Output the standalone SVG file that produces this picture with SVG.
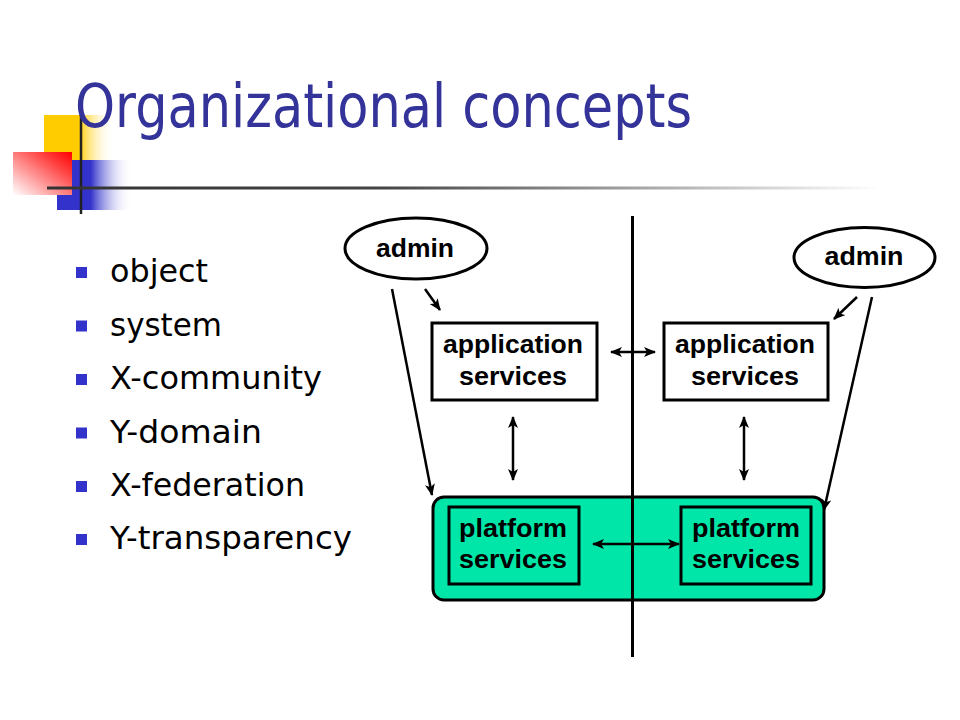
<svg xmlns="http://www.w3.org/2000/svg" width="960" height="720" viewBox="0 0 960 720">
<defs>
<linearGradient id="gYellow" x1="0" y1="0" x2="1" y2="0">
<stop offset="0" stop-color="#FFCC00"/>
<stop offset="0.5" stop-color="#FFCC00"/>
<stop offset="1" stop-color="#FFFFFF" stop-opacity="0"/>
</linearGradient>
<linearGradient id="gBlue" x1="0" y1="0" x2="1" y2="0">
<stop offset="0" stop-color="#3333CC"/>
<stop offset="0.45" stop-color="#3333CC"/>
<stop offset="1" stop-color="#FFFFFF" stop-opacity="0"/>
</linearGradient>
<linearGradient id="gRed" x1="1" y1="0" x2="0" y2="1">
<stop offset="0" stop-color="#FF0000"/>
<stop offset="0.25" stop-color="#FF3A3A"/>
<stop offset="1" stop-color="#FFFFFF"/>
</linearGradient>
<linearGradient id="gLine" x1="0" y1="0" x2="1" y2="0">
<stop offset="0" stop-color="#333333"/>
<stop offset="0.4" stop-color="#444444"/>
<stop offset="1" stop-color="#FFFFFF"/>
</linearGradient>
<marker id="ah" viewBox="0 0 12 10" refX="11" refY="5" markerWidth="12" markerHeight="10" markerUnits="userSpaceOnUse" orient="auto-start-reverse">
<path d="M0,0 L12,5 L0,10 L3,5 z" fill="#000"/>
</marker>
<style>
.title{font-family:"DejaVu Sans","Liberation Sans",sans-serif;font-size:60px;fill:#333399}
.bul{font-family:"DejaVu Sans","Liberation Sans",sans-serif;font-size:32px;fill:#000}
.sq{fill:#3333CC}
.lbl{font-family:"Liberation Sans",Arial,sans-serif;font-size:25px;font-weight:bold;fill:#000;text-anchor:middle}
.box{fill:#FFFFFF;stroke:#000;stroke-width:3}
.pbox{fill:#00E6A8;stroke:#000;stroke-width:3}
.obox{fill:none;stroke:#000;stroke-width:3}
.ell{fill:#FFFFFF;stroke:#000;stroke-width:3}
.con{fill:none;stroke:#000;stroke-width:2.5}
</style>
</defs>
<rect width="960" height="720" fill="#FFFFFF"/>

<g id="decoration">
<rect x="44" y="115" width="70" height="45" fill="url(#gYellow)"/>
<rect x="57" y="160" width="75" height="50" fill="url(#gBlue)"/>
<rect x="13" y="152" width="59" height="43" fill="url(#gRed)"/>
<line x1="81" y1="115" x2="81" y2="214" stroke="#222" stroke-width="2.5"/>
<rect x="47" y="186.5" width="833" height="3" fill="url(#gLine)"/>
</g>

<text class="title" x="75" y="127" textLength="617" lengthAdjust="spacingAndGlyphs">Organizational concepts</text>

<g id="bullets">
<rect class="sq" x="76" y="267" width="11" height="11"/>
<text class="bul" x="110" y="282" textLength="98" lengthAdjust="spacingAndGlyphs">object</text>
<rect class="sq" x="76" y="320.5" width="11" height="11"/>
<text class="bul" x="110" y="335.5" textLength="112" lengthAdjust="spacingAndGlyphs">system</text>
<rect class="sq" x="76" y="374" width="11" height="11"/>
<text class="bul" x="110" y="389" textLength="212" lengthAdjust="spacingAndGlyphs">X-community</text>
<rect class="sq" x="76" y="427.5" width="11" height="11"/>
<text class="bul" x="110" y="442.5" textLength="152" lengthAdjust="spacingAndGlyphs">Y-domain</text>
<rect class="sq" x="76" y="481" width="11" height="11"/>
<text class="bul" x="110" y="496" textLength="195" lengthAdjust="spacingAndGlyphs">X-federation</text>
<rect class="sq" x="76" y="534" width="11" height="11"/>
<text class="bul" x="110" y="549" textLength="242" lengthAdjust="spacingAndGlyphs">Y-transparency</text>
</g>

<g id="platform-domain">
<rect class="pbox" x="433" y="497" width="391" height="103" rx="11"/>
</g>

<g id="divider">
<line x1="632.5" y1="216" x2="632.5" y2="657" stroke="#000" stroke-width="3"/>
</g>

<g id="admin-left">
<ellipse class="ell" cx="416" cy="248.5" rx="71" ry="30.5"/>
<text class="lbl" x="415" y="257" textLength="78" lengthAdjust="spacingAndGlyphs">admin</text>
</g>
<g id="admin-right">
<ellipse class="ell" cx="864.5" cy="257.5" rx="70.5" ry="30"/>
<text class="lbl" x="864" y="265" textLength="79" lengthAdjust="spacingAndGlyphs">admin</text>
</g>

<g id="app-left">
<rect class="box" x="432" y="323" width="165" height="77"/>
<text class="lbl" x="513" y="353" textLength="140" lengthAdjust="spacingAndGlyphs">application</text>
<text class="lbl" x="513" y="385" textLength="108" lengthAdjust="spacingAndGlyphs">services</text>
</g>
<g id="app-right">
<rect class="box" x="664" y="323" width="164" height="77"/>
<text class="lbl" x="745" y="353" textLength="140" lengthAdjust="spacingAndGlyphs">application</text>
<text class="lbl" x="745" y="385" textLength="108" lengthAdjust="spacingAndGlyphs">services</text>
</g>

<g id="platform-left">
<rect class="obox" x="449" y="507" width="130" height="77"/>
<text class="lbl" x="513" y="537" textLength="108" lengthAdjust="spacingAndGlyphs">platform</text>
<text class="lbl" x="513" y="568" textLength="108" lengthAdjust="spacingAndGlyphs">services</text>
</g>
<g id="platform-right">
<rect class="obox" x="681" y="507" width="130" height="77"/>
<text class="lbl" x="746" y="537" textLength="108" lengthAdjust="spacingAndGlyphs">platform</text>
<text class="lbl" x="746" y="568" textLength="108" lengthAdjust="spacingAndGlyphs">services</text>
</g>

<g id="connectors">
<line class="con" x1="425" y1="289" x2="440" y2="310" marker-end="url(#ah)"/>
<line class="con" x1="392" y1="289" x2="432" y2="495" marker-end="url(#ah)"/>
<line class="con" x1="857" y1="297" x2="834" y2="319" marker-end="url(#ah)"/>
<line class="con" x1="872" y1="297" x2="824" y2="510" marker-end="url(#ah)"/>
<line class="con" x1="611" y1="352" x2="655" y2="352" marker-start="url(#ah)" marker-end="url(#ah)"/>
<line class="con" x1="513" y1="417" x2="513" y2="480" marker-start="url(#ah)" marker-end="url(#ah)"/>
<line class="con" x1="744" y1="417" x2="744" y2="480" marker-start="url(#ah)" marker-end="url(#ah)"/>
<line class="con" x1="593" y1="544" x2="679" y2="544" marker-start="url(#ah)" marker-end="url(#ah)"/>
</g>
</svg>
